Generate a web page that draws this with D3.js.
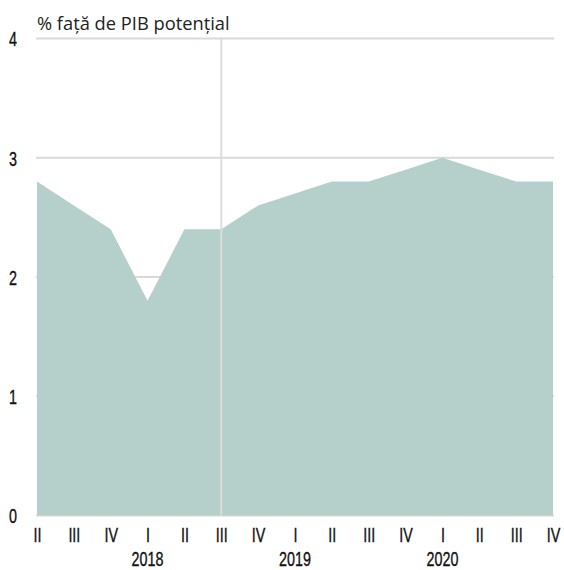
<!DOCTYPE html>
<html>
<head>
<meta charset="utf-8">
<script src="https://cdn.jsdelivr.net/npm/d3@7"></script>
<style>
  html, body { margin: 0; padding: 0; background: #fff; }
  svg { display: block; }
</style>
</head>
<body>
<svg id="chart" width="564" height="570"></svg>
<script>
const quarters = ["II","III","IV","I","II","III","IV","I","II","III","IV","I","II","III","IV"];
const values   = [2.8, 2.6, 2.4, 1.8, 2.4, 2.4, 2.6, 2.7, 2.8, 2.8, 2.9, 3.0, 2.9, 2.8, 2.8];
const years = [{label: "2018", index: 3}, {label: "2019", index: 7}, {label: "2020", index: 11}];
const yTicks = [0, 1, 2, 3, 4];
const title = "% față de PIB potențial";
const markerIndex = 5;

(function () {
const svg = d3.select("#chart");
const plotLeft = 37, plotRight = 553, plotTop = 38.5, plotBottom = 515.5;

const x = d3.scalePoint().domain(d3.range(quarters.length)).range([plotLeft, plotRight]);
const y = d3.scaleLinear().domain([0, 4]).range([plotBottom, plotTop]);

const tickFont = "'Liberation Sans', Arial, sans-serif";
const tickSize = 20.5;
const squeeze = 0.70;

function styleTick(sel) {
  sel.attr("font-family", tickFont).attr("font-size", tickSize)
    .attr("fill", "#111").attr("stroke", "#111").attr("stroke-width", 0.35);
}

// gridlines (behind area)
svg.append("g").selectAll("line").data(yTicks).join("line")
  .attr("x1", plotLeft - 1).attr("x2", plotRight + 1)
  .attr("y1", d => y(d)).attr("y2", d => y(d))
  .attr("stroke", "#d9d9d9").attr("stroke-width", 2);

// area
const area = d3.area()
  .x((d, i) => x(i))
  .y0(y(0))
  .y1(d => y(d));
svg.append("path").datum(values)
  .attr("d", area)
  .attr("fill", "#b5cfcb");

// vertical marker line
svg.append("line")
  .attr("x1", x(markerIndex)).attr("x2", x(markerIndex))
  .attr("y1", y(4) - 1).attr("y2", y(0))
  .attr("stroke", "#dcdcdc").attr("stroke-width", 2);

// y axis
const yAxis = svg.append("g").attr("transform", `translate(${plotLeft},0)`)
  .call(d3.axisLeft(y).tickValues(yTicks).tickFormat(d3.format("d")).tickSize(0).tickPadding(20));
yAxis.select(".domain").remove();
yAxis.selectAll("text").call(styleTick)
  .attr("x", null).attr("dy", "0.36em")
  .attr("transform", `translate(-20,0) scale(${squeeze},1)`);

// x axis
const xAxis = svg.append("g").attr("transform", `translate(0,${plotBottom})`)
  .call(d3.axisBottom(x).tickFormat(i => quarters[i]).tickSize(0).tickPadding(0));
xAxis.select(".domain").remove();
xAxis.selectAll("text").call(styleTick)
  .attr("dy", null).attr("y", 27)
  .attr("transform", `scale(${squeeze},1)`);

// years
svg.append("g").selectAll("text").data(years).join("text")
  .attr("transform", d => `translate(${x(d.index)},566) scale(${squeeze},1)`)
  .attr("text-anchor", "middle")
  .call(styleTick)
  .text(d => d.label);

// title
svg.append("text")
  .attr("x", plotLeft).attr("y", 30)
  .attr("font-family", "'Open Sans', 'Noto Sans', sans-serif")
  .attr("font-size", 18.3).attr("fill", "#222")
  .text(title);
})();
</script>
</body>
</html>
